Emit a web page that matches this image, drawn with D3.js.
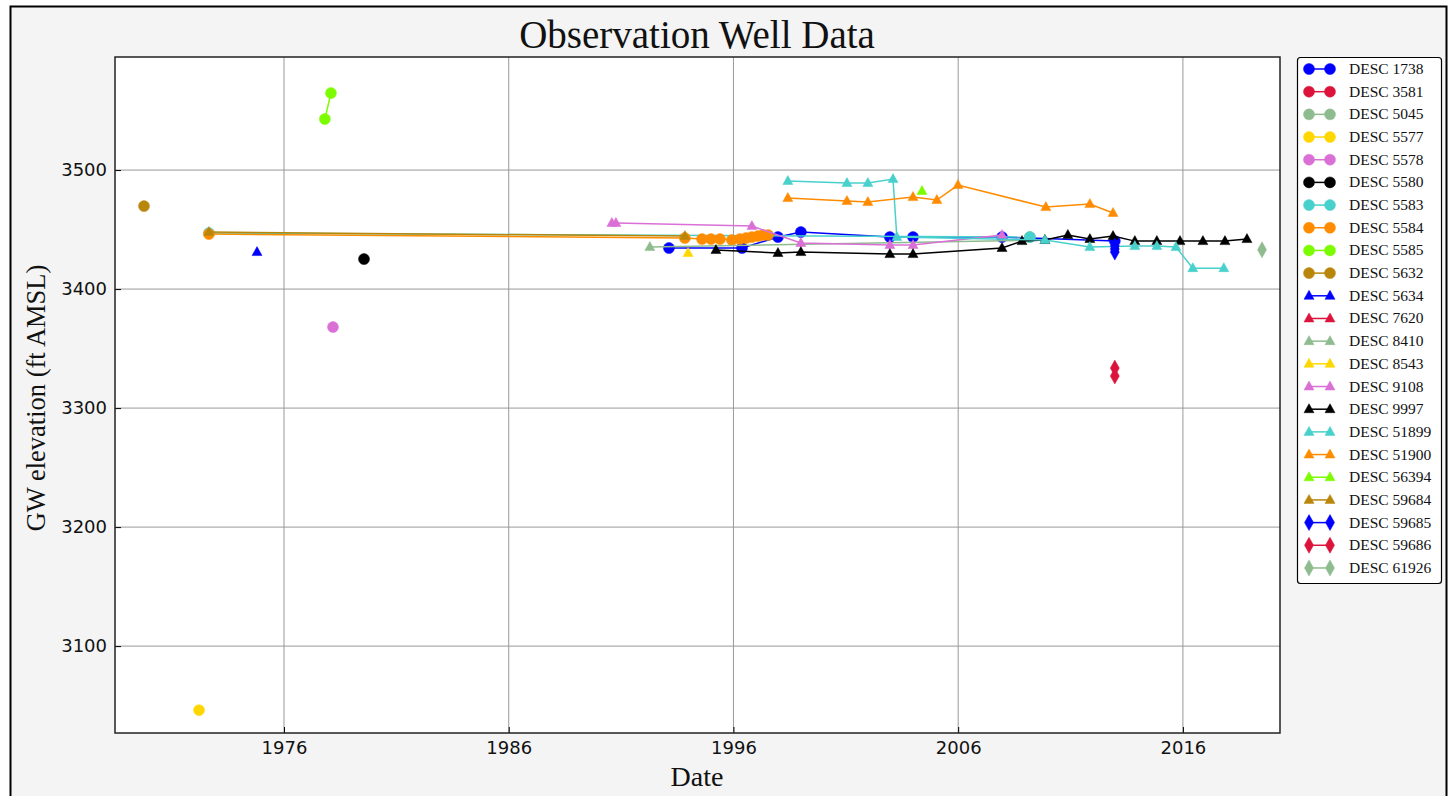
<!DOCTYPE html>
<html>
<head>
<meta charset="utf-8">
<script src="https://cdn.jsdelivr.net/npm/d3@7/dist/d3.min.js"></script>
<style>
  body { margin: 0; background: #fff; }
  svg text { fill: #111; }
</style>
</head>
<body>
<div id="chart"></div>
<script>
// well readings: [decimal year, GW elevation ft AMSL]
var desc1738  = [[1993.13,3434.5],[1996.38,3434.5],[1997.98,3443.7],[1999.00,3447.9],[2002.96,3443.7],[2003.99,3443.7],[2007.95,3443.7],[2012.97,3440.3]];
var desc3581  = [];
var desc5045  = [[2009.19,3443.7]];
var desc5577  = [[1972.22,3046.2]];
var desc5578  = [[1978.18,3368.1]];
var desc5580  = [[1979.56,3425.2]];
var desc5583  = [[1972.66,3447.1],[2009.19,3443.7]];
var desc5584  = [[1972.66,3446.2],[1993.84,3442.9],[1994.60,3442.0],[1995.00,3442.0],[1995.40,3442.0],[1995.93,3441.2],[1996.29,3442.0],[1996.56,3442.9],[1996.82,3443.7],[1997.09,3444.5],[1997.31,3445.4],[1997.54,3445.4]];
var desc5585  = [[1977.82,3542.9],[1978.09,3564.7]];
var desc5632  = [[1969.77,3469.7]];
var desc5634  = [[1974.80,3431.1]];
var desc7620  = [];
var desc8410  = [[1992.28,3435.3],[2009.86,3441.2]];
var desc8543  = [[1993.98,3430.3]];
var desc9108  = [[1990.59,3455.5],[1990.77,3455.5],[1996.82,3452.9],[1999.00,3438.7],[2002.96,3437.0],[2003.99,3437.0],[2007.95,3445.4]];
var desc9997  = [[1995.22,3432.8],[1997.98,3430.3],[1999.00,3431.1],[2002.96,3429.4],[2003.99,3429.4],[2007.95,3434.5],[2008.84,3440.3],[2009.86,3441.2],[2010.88,3445.4],[2011.86,3442.0],[2012.89,3444.5],[2013.86,3440.3],[2014.84,3440.3],[2015.87,3440.3],[2016.89,3440.3],[2017.87,3440.3],[2018.85,3442.0]];
var desc51899 = [[1998.42,3490.8],[2001.05,3489.1],[2001.98,3489.1],[2003.10,3492.4],[2003.27,3443.7],[2009.86,3441.2],[2011.86,3435.3],[2013.86,3436.1],[2014.84,3436.1],[2015.69,3435.3],[2016.44,3417.6],[2017.82,3417.6]];
var desc51900 = [[1998.42,3476.5],[2001.05,3474.0],[2001.98,3473.1],[2003.99,3477.3],[2005.05,3474.8],[2005.99,3487.4],[2009.90,3468.9],[2011.86,3471.4],[2012.89,3463.9]];
var desc56394 = [[2004.39,3482.4]];
var desc59684 = [[1972.66,3447.9],[1993.84,3444.5]];
var desc59685 = [[2012.97,3436.1],[2012.97,3433.6],[2012.97,3431.1]];
var desc59686 = [[2012.97,3333.6],[2012.97,3326.9]];
var desc61926 = [[2019.52,3433.0]];

var wellNames = ["DESC 1738","DESC 3581","DESC 5045","DESC 5577","DESC 5578","DESC 5580","DESC 5583","DESC 5584","DESC 5585","DESC 5632",
                 "DESC 5634","DESC 7620","DESC 8410","DESC 8543","DESC 9108","DESC 9997","DESC 51899","DESC 51900","DESC 56394","DESC 59684",
                 "DESC 59685","DESC 59686","DESC 61926"];
var wellData = [desc1738,desc3581,desc5045,desc5577,desc5578,desc5580,desc5583,desc5584,desc5585,desc5632,
                desc5634,desc7620,desc8410,desc8543,desc9108,desc9997,desc51899,desc51900,desc56394,desc59684,
                desc59685,desc59686,desc61926];
var colorCycle = ["#0000ff","#dc143c","#8fbc8f","#ffd700","#da70d6","#000000","#48d1cc","#ff8c00","#7cfc00","#b8860b"];
var markerCycle = ["circle","triangle","diamond"];

var xTicks = [1976,1986,1996,2006,2016];
var yTicks = [3100,3200,3300,3400,3500];

var W = 1453, H = 796;
var plot = {left: 115, top: 57, right: 1280, bottom: 733};

var svg = d3.select("#chart").append("svg")
    .attr("width", W).attr("height", H)
    .style("display", "block");

// figure frame
svg.append("rect").attr("x", 10.5).attr("y", 6.5).attr("width", 1436).attr("height", 800)
    .attr("fill", "#f4f4f4").attr("stroke", "#000").attr("stroke-width", 2);

var x = d3.scaleLinear().domain([1968.48, 2020.32]).range([plot.left, plot.right]);
var y = d3.scaleLinear().domain([3027, 3595]).range([plot.bottom, plot.top]);

svg.append("rect").attr("x", plot.left).attr("y", plot.top)
    .attr("width", plot.right - plot.left).attr("height", plot.bottom - plot.top)
    .attr("fill", "#fff");

// grid
var g = svg.append("g");
g.selectAll(".vg").data(xTicks).enter().append("line")
    .attr("x1", function(d){ return x(d); }).attr("x2", function(d){ return x(d); })
    .attr("y1", plot.top).attr("y2", plot.bottom)
    .attr("stroke", "#999").attr("stroke-width", 1);
g.selectAll(".hg").data(yTicks).enter().append("line")
    .attr("y1", function(d){ return y(d); }).attr("y2", function(d){ return y(d); })
    .attr("x1", plot.left).attr("x2", plot.right)
    .attr("stroke", "#999").attr("stroke-width", 1);

// axes
var xAxis = d3.axisBottom(x).tickValues(xTicks).tickFormat(d3.format("d")).tickSizeInner(-6).tickSizeOuter(0).tickPadding(8);
var yAxis = d3.axisLeft(y).tickValues(yTicks).tickFormat(d3.format("d")).tickSizeInner(-6).tickSizeOuter(0).tickPadding(8);

var gx = svg.append("g").attr("transform", "translate(0," + plot.bottom + ")").call(xAxis);
var gy = svg.append("g").attr("transform", "translate(" + plot.left + ",0)").call(yAxis);
[gx, gy].forEach(function(a){
  a.select(".domain").remove();
  a.selectAll("text").attr("font-family", "DejaVu Sans").attr("font-size", 18).attr("fill", "#222");
  a.selectAll(".tick line").attr("stroke", "#000");
});

// series
function markerPath(kind) {
  if (kind === "circle") return d3.symbol().type(d3.symbolCircle).size(Math.PI * 5.5 * 5.5)();
  if (kind === "triangle") return "M0,-5.5L5,3.5L-5,3.5Z";
  return "M0,-8L4.5,0L0,8L-4.5,0Z";
}

var line = d3.line().x(function(d){ return x(d[0]); }).y(function(d){ return y(d[1]); });

var series = svg.append("g");
wellData.forEach(function(pts, i) {
  var c = colorCycle[i % 10];
  var m = markerCycle[Math.floor(i / 10)];
  if (pts.length > 1) {
    series.append("path").attr("d", line(pts)).attr("fill", "none")
      .attr("stroke", c).attr("stroke-width", 1.5);
  }
  series.selectAll(null).data(pts).enter().append("path")
    .attr("d", markerPath(m))
    .attr("transform", function(d){ return "translate(" + x(d[0]) + "," + y(d[1]) + ")"; })
    .attr("fill", c).attr("stroke", c).attr("stroke-width", 0.5);
});

// spines
svg.append("rect").attr("x", plot.left).attr("y", plot.top)
    .attr("width", plot.right - plot.left).attr("height", plot.bottom - plot.top)
    .attr("fill", "none").attr("stroke", "#222").attr("stroke-width", 1.5);

// titles
svg.append("text").attr("x", 697).attr("y", 48).attr("text-anchor", "middle")
    .attr("font-family", "Liberation Serif").attr("font-size", 39).text("Observation Well Data");
svg.append("text").attr("x", 697).attr("y", 786).attr("text-anchor", "middle")
    .attr("font-family", "Liberation Serif").attr("font-size", 28).text("Date");
svg.append("text").attr("transform", "translate(45,398) rotate(-90)").attr("text-anchor", "middle")
    .attr("font-family", "Liberation Serif").attr("font-size", 26.5).text("GW elevation (ft AMSL)");

// legend
var lg = svg.append("g");
lg.append("rect").attr("x", 1297.5).attr("y", 57.5).attr("width", 144).attr("height", 526).attr("rx", 3)
    .attr("fill", "#fff").attr("stroke", "#000").attr("stroke-width", 1.2);
var legendStep = 22.68;
wellNames.forEach(function(name, i) {
  var yy = 69 + i * legendStep;
  var c = colorCycle[i % 10];
  var m = markerCycle[Math.floor(i / 10)];
  lg.append("line").attr("x1", 1309).attr("x2", 1330).attr("y1", yy).attr("y2", yy)
    .attr("stroke", c).attr("stroke-width", 1.5);
  [1309, 1330].forEach(function(px) {
    lg.append("path").attr("d", markerPath(m)).attr("transform", "translate(" + px + "," + yy + ")")
      .attr("fill", c).attr("stroke", c).attr("stroke-width", 0.5);
  });
  lg.append("text").attr("x", 1349).attr("y", yy + 5)
    .attr("font-family", "Liberation Serif").attr("font-size", 15.5).attr("fill", "#222").text(name);
});
</script>
</body>
</html>
